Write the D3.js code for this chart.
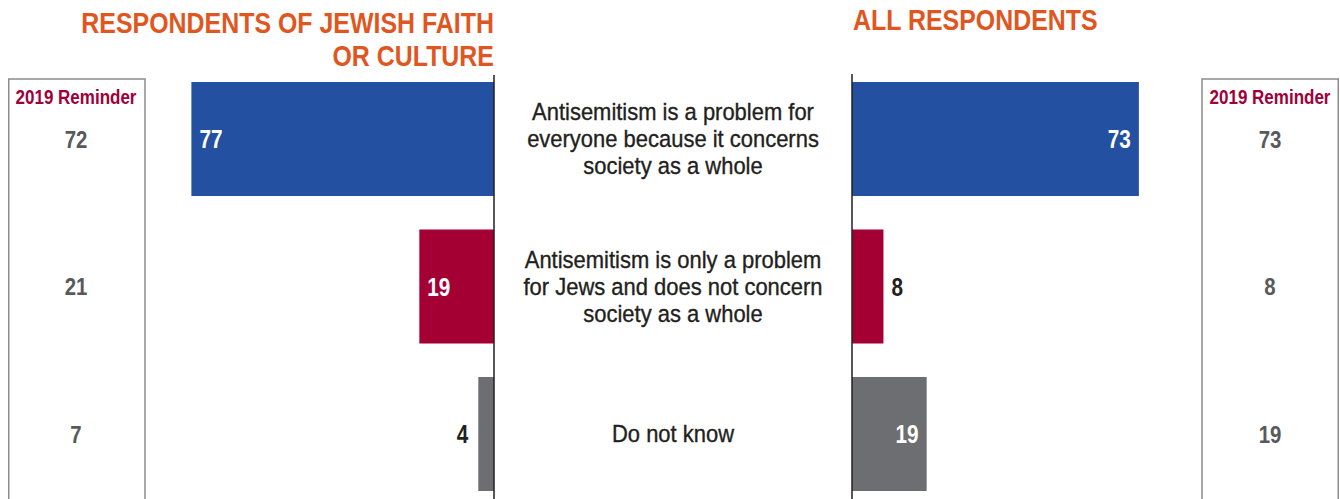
<!DOCTYPE html>
<html>
<head>
<meta charset="utf-8">
<script src="https://cdn.jsdelivr.net/npm/d3@7"></script>
<style>
  html, body { margin: 0; padding: 0; background: #fff; }
  svg { display: block; }
  text { font-family: "Liberation Sans", Arial, Helvetica, sans-serif; }
</style>
</head>
<body>
<svg id="chart" width="1340" height="499"></svg>
<script>
// Survey answers
const categories = [
  ["Antisemitism is a problem for", "everyone because it concerns", "society as a whole"],
  ["Antisemitism is only a problem", "for Jews and does not concern", "society as a whole"],
  ["Do not know"]
];
const jewishValues = [77, 19, 4];
const allValues = [73, 8, 19];
const jewishReminder2019 = [72, 21, 7];
const allReminder2019 = [73, 8, 19];
const barColors = ["#2450a2", "#a50034", "#6d6e71"];
const titleLeft = ["RESPONDENTS OF JEWISH FAITH", "OR CULTURE"];
const titleRight = "ALL RESPONDENTS";
const reminderLabel = "2019 Reminder";

const svg = d3.select("#chart");
const W = 1340, H = 499;

const keys = categories.map((d, i) => i);
const y = d3.scaleBand().domain(keys).range([82, 491]).paddingInner(0.227).paddingOuter(0);

const leftAxisX = 494, rightAxisX = 852;
const xLeft = d3.scaleLinear().domain([0, 100]).range([leftAxisX, leftAxisX - 393]);
const xRight = d3.scaleLinear().domain([0, 100]).range([rightAxisX, rightAxisX + 393]);

// Condensed text: a regular face squeezed horizontally around its anchor point
function condensedText(parent, x, yPos, str, o) {
  return parent.append("text")
    .attr("transform", `translate(${x},${yPos}) scale(${o.k},1)`)
    .attr("text-anchor", o.anchor || "start")
    .attr("dy", o.dy || null)
    .attr("fill", o.fill)
    .attr("font-size", o.size)
    .attr("font-weight", o.weight || "normal")
    .text(str);
}

// Titles
const orange = "#e0561f";
const titleG = svg.append("g");
titleLeft.forEach((t, i) => condensedText(titleG, leftAxisX, 33 + i * 33, t,
  { k: 0.86, anchor: "end", fill: orange, size: 29, weight: "bold" }));
condensedText(titleG, rightAxisX + 1, 30, titleRight,
  { k: 0.86, fill: orange, size: 29, weight: "bold" });

// 2019 reminder boxes
function reminderBox(cx, x0, x1, values) {
  const g = svg.append("g");
  g.append("rect").attr("x", x0).attr("y", 79).attr("width", x1 - x0).attr("height", H)
    .attr("fill", "none").attr("stroke", "#8c8c8c").attr("stroke-width", 1.5);
  condensedText(g, cx, 103.5, reminderLabel,
    { k: 0.81, anchor: "middle", fill: "#a0003a", size: 21, weight: "bold" });
  values.forEach((v, i) => condensedText(g, cx, y(i) + y.bandwidth() / 2, v,
    { k: 0.85, anchor: "middle", dy: "0.36em", fill: "#58595b", size: 24, weight: "bold" }));
}
reminderBox(76, 8.75, 145, jewishReminder2019);
reminderBox(1270, 1202, 1338.25, allReminder2019);

// Left bars (grow leftwards from the centre column)
const leftG = svg.append("g");
leftG.selectAll("rect").data(jewishValues).join("rect")
  .attr("x", d => xLeft(d)).attr("y", (d, i) => y(i))
  .attr("width", d => xLeft(0) - xLeft(d)).attr("height", y.bandwidth())
  .attr("fill", (d, i) => barColors[i]);
jewishValues.forEach((d, i) => {
  const inside = (xLeft(0) - xLeft(d)) > 40;
  condensedText(leftG, inside ? xLeft(d) + 8 : xLeft(d) - 10, y(i) + y.bandwidth() / 2, d, {
    k: 0.83, anchor: inside ? "start" : "end", dy: "0.36em",
    fill: inside ? "#fff" : "#231f20", size: 25, weight: "bold"
  });
});

// Right bars (grow rightwards from the centre column)
const rightG = svg.append("g");
rightG.selectAll("rect").data(allValues).join("rect")
  .attr("x", xRight(0)).attr("y", (d, i) => y(i))
  .attr("width", d => xRight(d) - xRight(0)).attr("height", y.bandwidth())
  .attr("fill", (d, i) => barColors[i]);
allValues.forEach((d, i) => {
  const inside = (xRight(d) - xRight(0)) > 40;
  condensedText(rightG, inside ? xRight(d) - 8 : xRight(d) + 8, y(i) + y.bandwidth() / 2, d, {
    k: 0.83, anchor: inside ? "end" : "start", dy: "0.36em",
    fill: inside ? "#fff" : "#231f20", size: 25, weight: "bold"
  });
});

// Axis baselines
svg.append("line").attr("x1", leftAxisX).attr("x2", leftAxisX).attr("y1", 75).attr("y2", H)
  .attr("stroke", "#231f20").attr("stroke-width", 1.5);
svg.append("line").attr("x1", rightAxisX).attr("x2", rightAxisX).attr("y1", 74).attr("y2", H)
  .attr("stroke", "#231f20").attr("stroke-width", 1.5);

// Category labels in the middle column (slightly heavier than regular)
const midX = (leftAxisX + rightAxisX) / 2;
const lineH = 27;
const catG = svg.append("g");
categories.forEach((lines, i) => {
  const cy = y(i) + y.bandwidth() / 2;
  const t = catG.append("text")
    .attr("transform", `translate(${midX},${cy}) scale(0.935,1)`)
    .attr("text-anchor", "middle").attr("fill", "#231f20")
    .attr("stroke", "#231f20").attr("stroke-width", 0.35)
    .attr("font-size", 23.5);
  lines.forEach((ln, j) => {
    t.append("tspan").attr("x", 0)
      .attr("y", (j - (lines.length - 1) / 2) * lineH)
      .attr("dy", "0.36em").text(ln);
  });
});
</script>
</body>
</html>
